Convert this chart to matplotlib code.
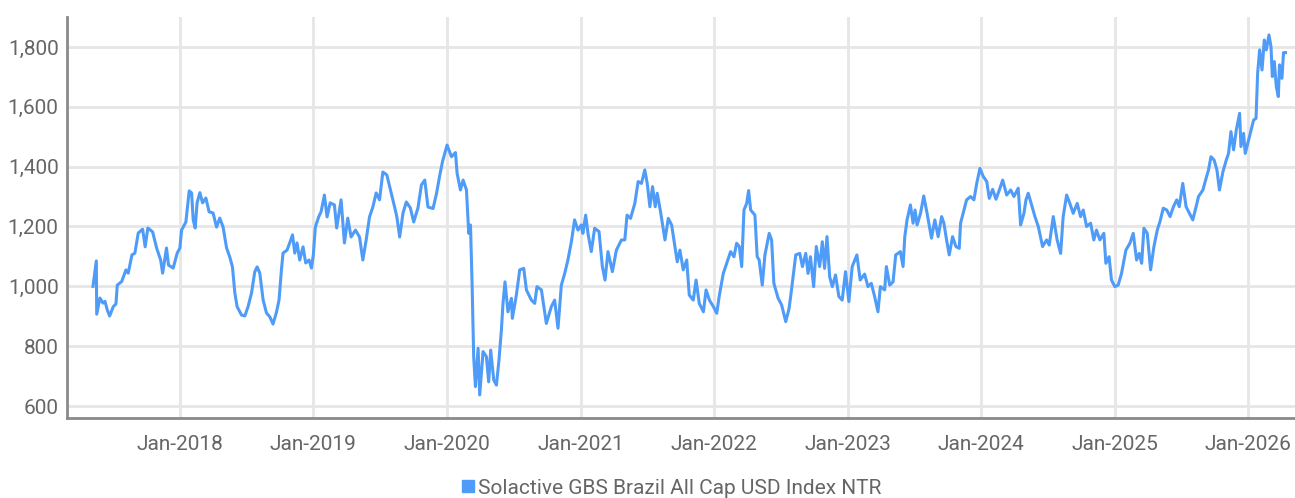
import datetime as dt
import numpy as np
import pandas as pd
import matplotlib
matplotlib.use("Agg")
import matplotlib.pyplot as plt
import matplotlib.dates as mdates
from matplotlib.lines import Line2D
from matplotlib.ticker import FuncFormatter

plt.rcParams['font.family'] = ['Roboto', 'DejaVu Sans']

series_name = "Solactive GBS Brazil All Cap USD Index NTR"

# decimal years
years = [
    2017.349, 2017.374, 2017.377, 2017.401, 2017.424, 2017.439, 2017.456, 2017.474, 2017.501, 2017.521,
    2017.531, 2017.564, 2017.596, 2017.613, 2017.641, 2017.663, 2017.688, 2017.721, 2017.740, 2017.760,
    2017.796, 2017.826, 2017.856, 2017.871, 2017.900, 2017.915, 2017.950, 2017.980, 2018.000, 2018.013,
    2018.045, 2018.070, 2018.088, 2018.100, 2018.115, 2018.129, 2018.150, 2018.170, 2018.195, 2018.219,
    2018.249, 2018.275, 2018.299, 2018.324, 2018.350, 2018.374, 2018.394, 2018.412, 2018.429, 2018.462,
    2018.487, 2018.511, 2018.537, 2018.561, 2018.579, 2018.599, 2018.624, 2018.649, 2018.674, 2018.698,
    2018.724, 2018.743, 2018.761, 2018.773, 2018.803, 2018.823, 2018.844, 2018.861, 2018.878, 2018.898,
    2018.923, 2018.943, 2018.968, 2018.986, 2019.000, 2019.015, 2019.040, 2019.058, 2019.083, 2019.103,
    2019.126, 2019.158, 2019.175, 2019.208, 2019.233, 2019.258, 2019.283, 2019.316, 2019.346, 2019.371,
    2019.396, 2019.421, 2019.446, 2019.471, 2019.496, 2019.521, 2019.551, 2019.584, 2019.609, 2019.626,
    2019.647, 2019.672, 2019.697, 2019.727, 2019.752, 2019.784, 2019.810, 2019.835, 2019.859, 2019.897,
    2019.923, 2019.947, 2019.968, 2020.002, 2020.035, 2020.065, 2020.077, 2020.102, 2020.122, 2020.147,
    2020.164, 2020.177, 2020.189, 2020.201, 2020.214, 2020.234, 2020.246, 2020.271, 2020.296, 2020.313,
    2020.328, 2020.351, 2020.371, 2020.390, 2020.408, 2020.420, 2020.435, 2020.457, 2020.483, 2020.490,
    2020.520, 2020.545, 2020.575, 2020.595, 2020.632, 2020.657, 2020.674, 2020.707, 2020.744, 2020.781,
    2020.806, 2020.831, 2020.856, 2020.881, 2020.905, 2020.931, 2020.955, 2020.980, 2021.005, 2021.017,
    2021.038, 2021.055, 2021.080, 2021.105, 2021.138, 2021.163, 2021.183, 2021.205, 2021.238, 2021.268,
    2021.306, 2021.331, 2021.348, 2021.374, 2021.406, 2021.431, 2021.456, 2021.481, 2021.499, 2021.519,
    2021.539, 2021.559, 2021.574, 2021.599, 2021.632, 2021.657, 2021.682, 2021.707, 2021.724, 2021.744,
    2021.769, 2021.795, 2021.814, 2021.844, 2021.865, 2021.889, 2021.920, 2021.940, 2021.965, 2021.995,
    2022.020, 2022.040, 2022.069, 2022.095, 2022.124, 2022.149, 2022.169, 2022.189, 2022.207, 2022.224,
    2022.244, 2022.259, 2022.274, 2022.306, 2022.323, 2022.338, 2022.361, 2022.381, 2022.413, 2022.431,
    2022.448, 2022.480, 2022.506, 2022.537, 2022.562, 2022.580, 2022.612, 2022.642, 2022.662, 2022.687,
    2022.704, 2022.722, 2022.746, 2022.766, 2022.791, 2022.811, 2022.828, 2022.846, 2022.866, 2022.886,
    2022.910, 2022.935, 2022.960, 2022.985, 2023.010, 2023.035, 2023.070, 2023.095, 2023.128, 2023.153,
    2023.178, 2023.203, 2023.228, 2023.246, 2023.278, 2023.291, 2023.316, 2023.341, 2023.361, 2023.396,
    2023.416, 2023.429, 2023.446, 2023.471, 2023.491, 2023.506, 2023.521, 2023.547, 2023.571, 2023.596,
    2023.629, 2023.654, 2023.679, 2023.705, 2023.722, 2023.742, 2023.762, 2023.787, 2023.812, 2023.837,
    2023.847, 2023.872, 2023.892, 2023.922, 2023.947, 2023.968, 2023.992, 2024.017, 2024.043, 2024.062,
    2024.087, 2024.112, 2024.137, 2024.162, 2024.192, 2024.222, 2024.246, 2024.278, 2024.296, 2024.321,
    2024.336, 2024.353, 2024.378, 2024.403, 2024.428, 2024.460, 2024.490, 2024.510, 2024.540, 2024.569,
    2024.595, 2024.614, 2024.640, 2024.664, 2024.689, 2024.719, 2024.744, 2024.764, 2024.789, 2024.819,
    2024.843, 2024.863, 2024.888, 2024.918, 2024.933, 2024.957, 2024.975, 2025.000, 2025.025, 2025.050,
    2025.083, 2025.113, 2025.138, 2025.163, 2025.183, 2025.201, 2025.218, 2025.243, 2025.268, 2025.293,
    2025.318, 2025.338, 2025.363, 2025.389, 2025.414, 2025.439, 2025.464, 2025.483, 2025.509, 2025.534,
    2025.559, 2025.584, 2025.609, 2025.627, 2025.660, 2025.677, 2025.702, 2025.720, 2025.744, 2025.765,
    2025.784, 2025.810, 2025.835, 2025.852, 2025.870, 2025.890, 2025.910, 2025.935, 2025.945, 2025.965,
    2025.977, 2026.002, 2026.020, 2026.040, 2026.058, 2026.070, 2026.085, 2026.103, 2026.120, 2026.135,
    2026.155, 2026.170, 2026.180, 2026.195, 2026.210, 2026.225, 2026.234, 2026.252, 2026.264, 2026.279,
]

values = [
    1000, 1085, 907, 961, 944, 950, 921, 901, 932, 941,
    1004, 1016, 1055, 1044, 1105, 1111, 1178, 1191, 1132, 1195,
    1182, 1128, 1088, 1044, 1128, 1071, 1061, 1111, 1128, 1188,
    1215, 1319, 1312, 1222, 1195, 1279, 1313, 1279, 1295, 1249,
    1245, 1198, 1228, 1198, 1128, 1098, 1065, 978, 932, 904,
    901, 932, 978, 1048, 1065, 1044, 954, 911, 898, 874,
    914, 954, 1055, 1111, 1121, 1145, 1172, 1111, 1145, 1088,
    1132, 1078, 1088, 1061, 1105, 1198, 1232, 1249, 1305, 1232,
    1279, 1272, 1195, 1289, 1145, 1228, 1165, 1188, 1165, 1088,
    1155, 1232, 1265, 1312, 1289, 1382, 1372, 1312, 1265, 1232,
    1165, 1245, 1282, 1262, 1215, 1262, 1339, 1355, 1265, 1260,
    1310, 1370, 1417, 1472, 1433, 1447, 1378, 1322, 1355, 1322,
    1177, 1205, 1010, 765, 665, 793, 637, 782, 765, 681,
    787, 687, 670, 754, 854, 943, 1015, 915, 960, 893,
    971, 1055, 1060, 988, 954, 943, 999, 988, 876, 932,
    954, 860, 1004, 1043, 1088, 1149, 1222, 1188, 1205, 1177,
    1238, 1177, 1116, 1194, 1183, 1066, 1021, 1116, 1049, 1121,
    1155, 1155, 1238, 1227, 1277, 1350, 1344, 1389, 1344, 1266,
    1333, 1266, 1311, 1249, 1155, 1227, 1205, 1133, 1082, 1121,
    1055, 1088, 971, 954, 1021, 943, 915, 988, 954, 932,
    910, 971, 1043, 1077, 1116, 1099, 1144, 1133, 1066, 1255,
    1277, 1320, 1255, 1238, 1099, 1088, 1004, 1105, 1177, 1155,
    1010, 960, 938, 882, 926, 988, 1105, 1110, 1066, 1110,
    1043, 1099, 999, 1133, 1066, 1149, 1060, 1166, 1032, 999,
    1038, 966, 954, 1049, 949, 1066, 1105, 1021, 1041, 999,
    1010, 966, 915, 999, 988, 1066, 1004, 1015, 1105, 1116,
    1066, 1166, 1222, 1272, 1211, 1255, 1205, 1244, 1302, 1244,
    1161, 1222, 1166, 1233, 1211, 1155, 1105, 1166, 1133, 1127,
    1211, 1255, 1289, 1300, 1289, 1344, 1394, 1367, 1350, 1294,
    1324, 1291, 1322, 1355, 1305, 1322, 1300, 1328, 1205, 1244,
    1289, 1311, 1272, 1233, 1200, 1133, 1155, 1138, 1233, 1155,
    1110, 1233, 1305, 1277, 1244, 1277, 1233, 1255, 1200, 1211,
    1155, 1188, 1155, 1177, 1077, 1099, 1021, 999, 1004, 1043,
    1121, 1144, 1177, 1088, 1110, 1077, 1194, 1177, 1055, 1133,
    1188, 1216, 1261, 1255, 1233, 1266, 1289, 1266, 1344, 1266,
    1244, 1222, 1266, 1300, 1322, 1350, 1389, 1433, 1422, 1389,
    1322, 1383, 1422, 1444, 1517, 1456, 1522, 1578, 1467, 1511,
    1444, 1489, 1522, 1556, 1561, 1712, 1790, 1723, 1823, 1790,
    1840, 1801, 1701, 1751, 1667, 1634, 1740, 1695, 1781, 1781,
]

y_ticks = [600, 800, 1000, 1200, 1400, 1600, 1800]
x_tick_years = list(range(2018, 2027))


def to_date(y):
    yr = int(np.floor(y))
    start = dt.datetime(yr, 1, 1)
    days = (dt.datetime(yr + 1, 1, 1) - start).days
    return start + dt.timedelta(days=(y - yr) * days)


dates = pd.to_datetime([to_date(y) for y in years])

line_color = '#4f9bf8'
grid_color = '#e6e6e6'
text_color = '#666666'

fig = plt.figure(figsize=(12.95, 4.98), dpi=100)
ax = fig.add_axes([0.0517, 0.1606, 0.9483, 0.8053])

ax.plot(dates, values, color=line_color, linewidth=2.2, zorder=3)

ax.set_xlim(to_date(2017.154), to_date(2026.35))
ax.set_ylim(560, 1900)

ax.set_yticks(y_ticks)
ax.yaxis.set_major_formatter(FuncFormatter(lambda v, p: f"{int(v):,}"))
ax.set_xticks([dt.datetime(y, 1, 1) for y in x_tick_years])
ax.xaxis.set_major_formatter(mdates.DateFormatter('%b-%Y'))

ax.grid(True, color=grid_color, linewidth=2.0, zorder=0)
ax.tick_params(axis='both', length=0, labelsize=15, labelcolor=text_color)
ax.tick_params(axis='y', pad=6)
ax.tick_params(axis='x', pad=12)

for side in ['top', 'right']:
    ax.spines[side].set_visible(False)
for side in ['left', 'bottom']:
    ax.spines[side].set_color('#8a8a8a')
    ax.spines[side].set_linewidth(2.0)

handle = Line2D([], [], marker='s', linestyle='none', color=line_color, markersize=8)
fig.legend([handle], [series_name], loc='lower center', bbox_to_anchor=(0.518, -0.037),
           frameon=False, fontsize=15, labelcolor=text_color, handletextpad=0.1,
           handlelength=0.8)

fig.savefig('out.png', dpi=100)
